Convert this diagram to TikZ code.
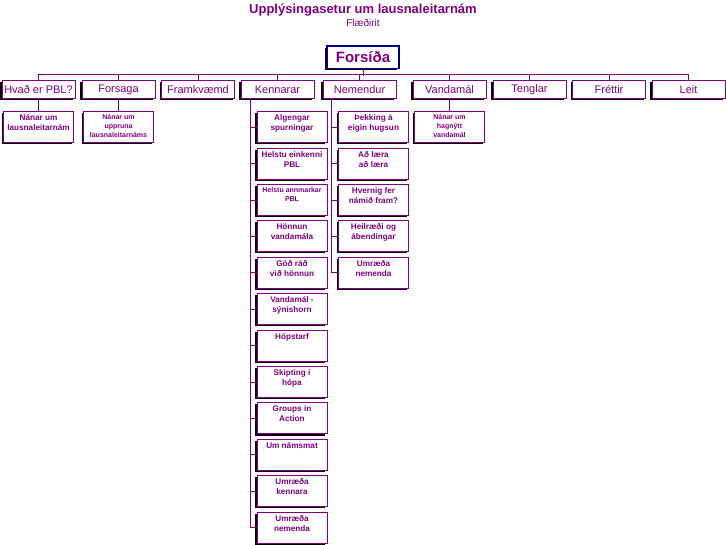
\documentclass[tikz,border=0pt]{standalone}
\usepackage{fontspec}
\setmainfont{Liberation Sans}
\usetikzlibrary{shadows}
\definecolor{pblpurple}{HTML}{800080}
\definecolor{pblnavy}{HTML}{000080}
\newcommand{\kidlines}[1]{\parbox[c][25pt][t]{66pt}{\centering #1}}
\begin{document}
\begin{tikzpicture}[x=1pt,y=-1pt,
    every node/.style={text=pblpurple},
    shadowbox/.style={draw=pblpurple,line width=0.9pt,fill=white,inner sep=0pt,
        general shadow={fill=black,shadow xshift=-1.6pt,shadow yshift=-1.6pt}},
    homebox/.style={shadowbox,draw=pblnavy,line width=1.2pt,minimum width=72pt,minimum height=22.5pt,
        font=\bfseries\fontsize{15}{16}\selectfont},
    tabbox/.style={shadowbox,minimum width=73pt,minimum height=17.5pt,font=\fontsize{11}{12}\selectfont},
    kidbox/.style={shadowbox,minimum width=70pt,minimum height=31pt,font=\bfseries\fontsize{8.2}{10}\selectfont},
    tinytext/.style={font=\bfseries\fontsize{7}{9.2}\selectfont},
    wire/.style={draw=pblpurple,line width=0.9pt}]
    \useasboundingbox (0,0) rectangle (726,545);
    %% Title
    \node[font=\bfseries\fontsize{13}{14}\selectfont] (title) at (363,10) {Upplýsingasetur um lausnaleitarnám};
    \node[font=\fontsize{10}{11}\selectfont] (sub) at (363,23) {Flæðirit};
    %% Home and tabs
    \node[homebox] (home) at (363,57.3) {Forsíða};
    \node[tabbox] (hvad) at (38.5,89.5) {Hvað er PBL?};
    \node[tabbox] (fors) at (118.5,89.5) {Forsaga};
    \node[tabbox] (fram) at (198,89.5) {Framkvæmd};
    \node[tabbox] (kenn) at (277.5,89.5) {Kennarar};
    \node[tabbox] (nem) at (359.5,89.5) {Nemendur};
    \node[tabbox] (vand) at (449.5,89.5) {Vandamál};
    \node[tabbox] (teng) at (529.5,89.5) {Tenglar};
    \node[tabbox] (fret) at (609,89.5) {Fréttir};
    \node[tabbox] (leit) at (688.5,89.5) {Leit};
    %% Single pages
    \node[kidbox] (hvad1) at (38.5,126.5) {\kidlines{Nánar um\\lausnaleitarnám}};
    \node[kidbox,tinytext] (fors1) at (118.5,126.5) {\kidlines{Nánar um\\uppruna\\lausnaleitarnáms}};
    \node[kidbox,tinytext] (vand1) at (449.5,126.5) {\kidlines{Nánar um\\hagnýtt\\vandamál}};
    %% Kennarar pages
    \node[kidbox] (kenn1) at (292,127.2) {\kidlines{Algengar\\spurningar}};
    \node[kidbox] (kenn2) at (292,163.6) {\kidlines{Helstu einkenni\\PBL}};
    \node[kidbox,tinytext] (kenn3) at (292,200.0) {\kidlines{Helstu annmarkar\\PBL}};
    \node[kidbox] (kenn4) at (292,236.4) {\kidlines{Hönnun\\vandamála}};
    \node[kidbox] (kenn5) at (292,272.8) {\kidlines{Góð ráð\\við hönnun}};
    \node[kidbox] (kenn6) at (292,309.2) {\kidlines{Vandamál -\\sýnishorn}};
    \node[kidbox] (kenn7) at (292,345.6) {\kidlines{Hópstarf}};
    \node[kidbox] (kenn8) at (292,382.0) {\kidlines{Skipting í\\hópa}};
    \node[kidbox] (kenn9) at (292,418.4) {\kidlines{Groups in\\Action}};
    \node[kidbox] (kenn10) at (292,454.8) {\kidlines{Um námsmat}};
    \node[kidbox] (kenn11) at (292,491.2) {\kidlines{Umræða\\kennara}};
    \node[kidbox] (kenn12) at (292,527.6) {\kidlines{Umræða\\nemenda}};
    %% Nemendur pages
    \node[kidbox] (nem1) at (373.5,127.2) {\kidlines{Þekking á\\eigin hugsun}};
    \node[kidbox] (nem2) at (373.5,163.6) {\kidlines{Að læra\\að læra}};
    \node[kidbox] (nem3) at (373.5,200.0) {\kidlines{Hvernig fer\\námið fram?}};
    \node[kidbox] (nem4) at (373.5,236.4) {\kidlines{Heilræði og\\ábendingar}};
    \node[kidbox] (nem5) at (373.5,272.8) {\kidlines{Umræða\\nemenda}};
    %% Lines
    \draw[wire] (home.south) -- ++(0,7);
    \draw[wire] (hvad.north) -- ++(0,-6) -| (leit.north);
    \draw[wire] (fors.north) -- ++(0,-6);
    \draw[wire] (fram.north) -- ++(0,-6);
    \draw[wire] (kenn.north) -- ++(0,-6);
    \draw[wire] (nem.north) -- ++(0,-6);
    \draw[wire] (vand.north) -- ++(0,-6);
    \draw[wire] (teng.north) -- ++(0,-6);
    \draw[wire] (fret.north) -- ++(0,-6);
    \draw[wire] (hvad.south) -- (hvad1.north);
    \draw[wire] (fors.south) -- (fors1.north);
    \draw[wire] (vand.south) -- (vand1.north);
    \draw[wire] ([xshift=10pt]kenn.south west) |- (kenn12.west);
    \draw[wire] ([xshift=10pt]kenn.south west) |- (kenn1.west) ([xshift=10pt]kenn.south west) |- (kenn2.west)
        ([xshift=10pt]kenn.south west) |- (kenn3.west) ([xshift=10pt]kenn.south west) |- (kenn4.west)
        ([xshift=10pt]kenn.south west) |- (kenn5.west) ([xshift=10pt]kenn.south west) |- (kenn6.west)
        ([xshift=10pt]kenn.south west) |- (kenn7.west) ([xshift=10pt]kenn.south west) |- (kenn8.west)
        ([xshift=10pt]kenn.south west) |- (kenn9.west) ([xshift=10pt]kenn.south west) |- (kenn10.west)
        ([xshift=10pt]kenn.south west) |- (kenn11.west);
    \draw[wire] ([xshift=9pt]nem.south west) |- (nem5.west);
    \draw[wire] ([xshift=9pt]nem.south west) |- (nem1.west) ([xshift=9pt]nem.south west) |- (nem2.west)
        ([xshift=9pt]nem.south west) |- (nem3.west) ([xshift=9pt]nem.south west) |- (nem4.west);
\end{tikzpicture}
\end{document}
